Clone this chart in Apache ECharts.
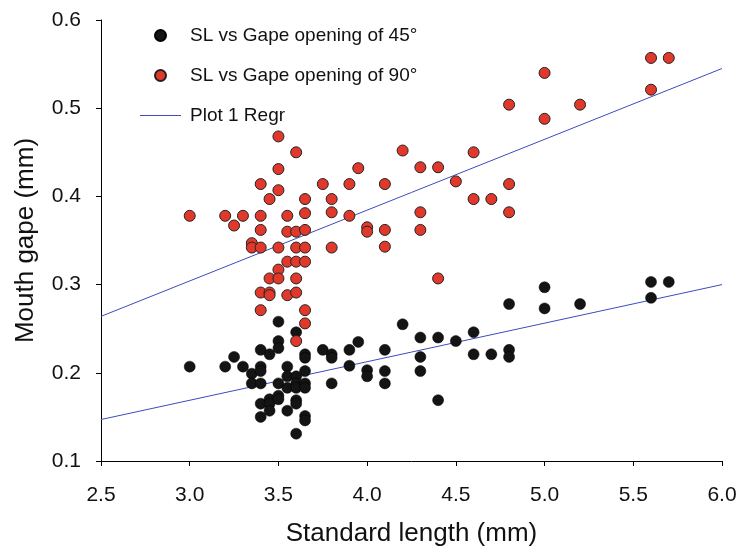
<!DOCTYPE html>
<html>
<head>
<meta charset="utf-8">
<script src="https://cdn.jsdelivr.net/npm/echarts@6/dist/echarts.min.js"></script>
<style>
  html, body { margin: 0; padding: 0; background: #fff; }
  #chart { width: 740px; height: 552px; }
</style>
</head>
<body>
<div id="chart"></div>
<script>
// datos: [SL, gape]
const gape45 = [
  [3.0, 0.207], [3.2, 0.207], [3.25, 0.218], [3.3, 0.207], [3.35, 0.199], [3.35, 0.188],
  [3.4, 0.226], [3.4, 0.207], [3.4, 0.202], [3.4, 0.188], [3.4, 0.165], [3.4, 0.150],
  [3.45, 0.221], [3.45, 0.170], [3.45, 0.165], [3.45, 0.157],
  [3.5, 0.258], [3.5, 0.236], [3.5, 0.228], [3.5, 0.188], [3.5, 0.174], [3.5, 0.170],
  [3.55, 0.207], [3.55, 0.196], [3.55, 0.183], [3.55, 0.157],
  [3.6, 0.246], [3.6, 0.196], [3.6, 0.188], [3.6, 0.183], [3.6, 0.169], [3.6, 0.165], [3.6, 0.131],
  [3.65, 0.221], [3.65, 0.217], [3.65, 0.202], [3.65, 0.188], [3.65, 0.183], [3.65, 0.151], [3.65, 0.146],
  [3.75, 0.226], [3.8, 0.221], [3.8, 0.217], [3.8, 0.188],
  [3.9, 0.226], [3.9, 0.208], [3.95, 0.235], [4.0, 0.203], [4.0, 0.196],
  [4.1, 0.226], [4.1, 0.202], [4.1, 0.188], [4.2, 0.255], [4.3, 0.240], [4.3, 0.218], [4.3, 0.202],
  [4.4, 0.240], [4.4, 0.169], [4.5, 0.236], [4.6, 0.246], [4.6, 0.221], [4.7, 0.221],
  [4.8, 0.278], [4.8, 0.226], [4.8, 0.218], [5.0, 0.297], [5.0, 0.273], [5.2, 0.278],
  [5.6, 0.303], [5.6, 0.285], [5.7, 0.303]
];

const gape90 = [
  [3.0, 0.378], [3.2, 0.378], [3.25, 0.367], [3.3, 0.378], [3.35, 0.347], [3.35, 0.342],
  [3.4, 0.414], [3.4, 0.378], [3.4, 0.362], [3.4, 0.342], [3.4, 0.291], [3.4, 0.271],
  [3.45, 0.397], [3.45, 0.307], [3.45, 0.291], [3.45, 0.288],
  [3.5, 0.468], [3.5, 0.431], [3.5, 0.407], [3.5, 0.342], [3.5, 0.317], [3.5, 0.307],
  [3.55, 0.378], [3.55, 0.360], [3.55, 0.326], [3.55, 0.288],
  [3.6, 0.450], [3.6, 0.360], [3.6, 0.342], [3.6, 0.326], [3.6, 0.307], [3.6, 0.291], [3.6, 0.236],
  [3.65, 0.397], [3.65, 0.381], [3.65, 0.362], [3.65, 0.342], [3.65, 0.326], [3.65, 0.271], [3.65, 0.256],
  [3.75, 0.414], [3.8, 0.397], [3.8, 0.382], [3.8, 0.342],
  [3.9, 0.414], [3.9, 0.378], [3.95, 0.432], [4.0, 0.365], [4.0, 0.360],
  [4.1, 0.414], [4.1, 0.362], [4.1, 0.343], [4.2, 0.452], [4.3, 0.433], [4.3, 0.382], [4.3, 0.362],
  [4.4, 0.433], [4.4, 0.307], [4.5, 0.417], [4.6, 0.450], [4.6, 0.397], [4.7, 0.397],
  [4.8, 0.504], [4.8, 0.414], [4.8, 0.382], [5.0, 0.540], [5.0, 0.488], [5.2, 0.504],
  [5.6, 0.557], [5.6, 0.521], [5.7, 0.557]
];

// rectas de regresion (extremos)
const regr45 = [[2.5, 0.147], [6.0, 0.300]];
const regr90 = [[2.5, 0.264], [6.0, 0.545]];

const xTicks = [2.5, 3.0, 3.5, 4.0, 4.5, 5.0, 5.5, 6.0];
const yTicks = [0.1, 0.2, 0.3, 0.4, 0.5, 0.6];

const chartDom = document.getElementById("chart");
const chart = echarts.init(chartDom);

const font = "'Liberation Sans', Arial, sans-serif";
const blue = "#3a4cbf";

const option = {
  animation: false,
  textStyle: { fontFamily: font },
  grid: {
    left: 101,
    right: 18,
    top: 20,
    bottom: 88,
  },
  legend: {
    orient: "vertical",
    left: 135,
    top: 21,
    itemWidth: 41,
    itemHeight: 11,
    itemGap: 21,
    textStyle: { fontSize: 19, color: "#111", fontFamily: font, padding: [0, 0, 0, 4] },
    data: [
      "SL vs Gape opening of 45°",
      "SL vs Gape opening of 90°",
      { name: "Plot 1 Regr", icon: "path://M0,0H100V2.6H0Z" },
    ],
  },
  xAxis: {
    type: "value",
    min: xTicks[0],
    max: xTicks[xTicks.length - 1],
    interval: 0.5,
    name: "Standard length (mm)",
    nameLocation: "middle",
    nameGap: 60,
    nameTextStyle: { fontSize: 26, color: "#111" },
    axisLine: { onZero: false, lineStyle: { color: "#000", width: 1 } },
    axisTick: { show: true, length: 5, lineStyle: { color: "#000" } },
    axisLabel: {
      fontSize: 21,
      color: "#111",
      margin: 24,
      formatter: (v) => v.toFixed(1),
    },
    splitLine: { show: false },
  },
  yAxis: {
    type: "value",
    min: yTicks[0],
    max: yTicks[yTicks.length - 1],
    interval: 0.1,
    name: "Mouth gape (mm)",
    nameLocation: "middle",
    nameGap: 62,
    nameTextStyle: { fontSize: 26, color: "#111" },
    axisLine: { show: true, onZero: false, lineStyle: { color: "#000", width: 1 } },
    axisTick: { show: true, length: 5, lineStyle: { color: "#000" } },
    axisLabel: {
      fontSize: 21,
      color: "#111",
      margin: 20,
      formatter: (v) => v.toFixed(1),
    },
    splitLine: { show: false },
  },
  series: [
    {
      name: "Plot 1 Regr",
      type: "line",
      data: regr45,
      symbol: "none",
      lineStyle: { color: blue, width: 1 },
      itemStyle: { color: blue },
      z: 1,
    },
    {
      name: "Plot 1 Regr",
      type: "line",
      data: regr90,
      symbol: "none",
      lineStyle: { color: blue, width: 1 },
      itemStyle: { color: blue },
      z: 1,
    },
    {
      name: "SL vs Gape opening of 45°",
      type: "scatter",
      data: gape45,
      symbolSize: 11,
      itemStyle: { color: "#141414", borderColor: "#000", borderWidth: 0.5, opacity: 1 },
      z: 2,
    },
    {
      name: "SL vs Gape opening of 90°",
      type: "scatter",
      data: gape90,
      symbolSize: 11,
      itemStyle: { color: "#e0392b", borderColor: "#222", borderWidth: 1, opacity: 1 },
      z: 3,
    },
  ],
};

chart.setOption(option);

window.addEventListener("resize", () => {
  chart.resize();
});
</script>
</body>
</html>
